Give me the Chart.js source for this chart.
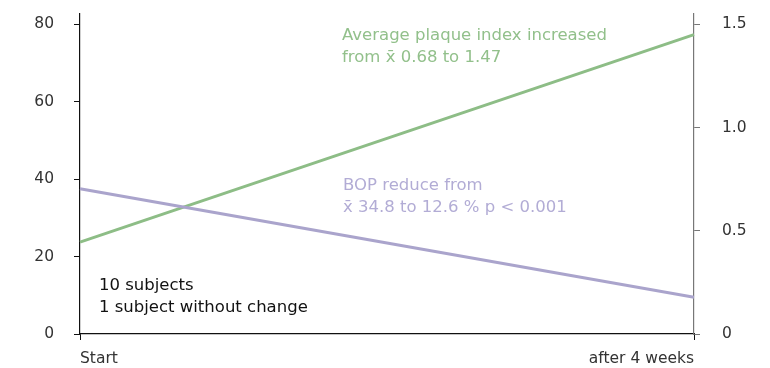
<!DOCTYPE html>
<html>
<head>
<meta charset="utf-8">
<script src="https://cdn.jsdelivr.net/npm/chart.js@4"></script>
<style>
  html, body { margin: 0; padding: 0; background: #fff; }
  #wrap { width: 770px; height: 368px; }
</style>
</head>
<body>
<div id="wrap"><canvas id="chart" width="770" height="368"></canvas></div>
<script>
const labels = ['Start', 'after 4 weeks'];
const bopValues = [37.5, 9.5];
const plaqueValues = [0.445, 1.45];
const leftTicks = [0, 20, 40, 60, 80];
const rightTicks = [0, 0.5, 1.0, 1.5];
const rightTickLabels = ['0', '0.5', '1.0', '1.5'];

const FONT = 'DejaVu Sans';
const green = '#8dbd86';
const purple = '#aaa4cc';

// textos sobre o gráfico
const notes = [
    { lines: ['Average plaque index increased', 'from x\u0304 0.68 to 1.47'], x: 342, y: 36, color: '#92c08b' },
    { lines: ['BOP reduce from', 'x\u0304 34.8 to 12.6 % p < 0.001'], x: 343, y: 186, color: '#b2acd5' },
    { lines: ['10 subjects', '1 subject without change'], x: 99, y: 286, color: '#111' }
];

const notesPlugin = {
    id: 'notes',
    afterDraw(chart) {
        const ctx = chart.ctx;
        ctx.save();
        ctx.font = '16.5px "' + FONT + '"';
        ctx.textBaseline = 'middle';
        ctx.textAlign = 'left';
        notes.forEach(n => {
            ctx.fillStyle = n.color;
            n.lines.forEach((t, i) => ctx.fillText(t, n.x, n.y + i * 22));
        });
        ctx.restore();
    }
};

function fixPad(s) {
    s.paddingTop = 0;
    s.paddingBottom = 0;
}

new Chart(document.getElementById('chart').getContext('2d'), {
    type: 'line',
    data: {
        labels: labels,
        datasets: [{
            label: 'BOP',
            data: bopValues,
            borderColor: purple,
            borderWidth: 3,
            pointRadius: 0,
            yAxisID: 'y'
        }, {
            label: 'Plaque index',
            data: plaqueValues,
            borderColor: green,
            borderWidth: 3,
            pointRadius: 0,
            yAxisID: 'y1'
        }]
    },
    options: {
        responsive: false,
        animation: false,
        layout: { padding: { top: 14, left: 0, right: 0, bottom: 0 } },
        plugins: { legend: { display: false }, tooltip: { enabled: false } },
        scales: {
            x: {
                offset: false,
                border: { color: '#111', width: 1.2 },
                grid: { drawOnChartArea: false, drawTicks: true, tickLength: 6, color: '#111' },
                ticks: { align: 'inner', color: '#333', font: { family: FONT, size: 15.5 }, padding: 10, maxRotation: 0 },
                afterFit(s) { s.height = 34; s.paddingLeft = 0; s.paddingRight = 0; }
            },
            y: {
                position: 'left',
                min: 0,
                max: 82.6,
                border: { color: '#111', width: 1.2 },
                grid: { drawOnChartArea: false, tickLength: 6, color: '#111' },
                ticks: { color: '#333', font: { family: FONT, size: 15.5 }, padding: 20 },
                afterBuildTicks(s) { s.ticks = leftTicks.map(v => ({ value: v })); },
                afterFit(s) { s.width = 80; fixPad(s); }
            },
            y1: {
                position: 'right',
                min: 0,
                max: 1.55,
                border: { color: '#777', width: 1.2 },
                grid: { drawOnChartArea: false, tickLength: 6, color: '#777' },
                ticks: {
                    color: '#333', font: { family: FONT, size: 15.5 }, padding: 22,
                    callback: (v) => rightTickLabels[rightTicks.indexOf(v)]
                },
                afterBuildTicks(s) { s.ticks = rightTicks.map(v => ({ value: v })); },
                afterFit(s) { s.width = 76; fixPad(s); }
            }
        }
    },
    plugins: [notesPlugin]
});
</script>
</body>
</html>
